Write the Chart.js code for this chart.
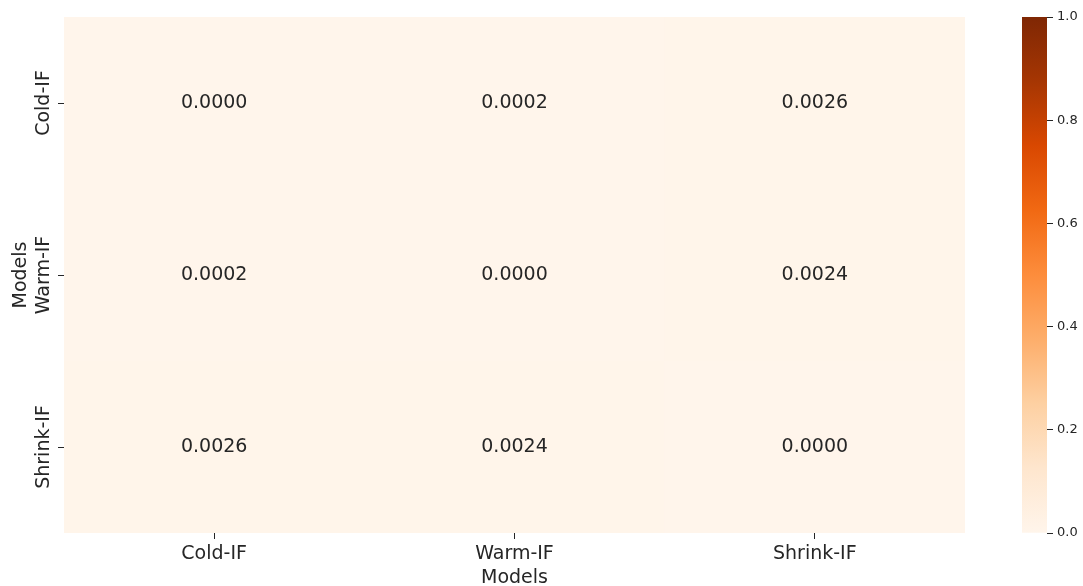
<!DOCTYPE html>
<html lang="en">
<head>
  <meta charset="UTF-8">
  <title>Model distance heatmap</title>
  <script src="https://cdn.jsdelivr.net/npm/chart.js"></script>
  <style>
    body { margin: 0; background: #fff; }
    #wrap { position: relative; width: 1083px; height: 586px; }
    canvas { position: absolute; top: 0; }
  </style>
</head>
<body>
  <div id="wrap">
    <canvas id="heat" width="1083" height="586" style="left:0"></canvas>
    <canvas id="cbar" width="83" height="586" style="left:1000px"></canvas>
  </div>

  <script>
    const models = ['Cold-IF', 'Warm-IF', 'Shrink-IF'];
    const coldRow = [0.0000, 0.0002, 0.0026];
    const warmRow = [0.0002, 0.0000, 0.0024];
    const shrinkRow = [0.0026, 0.0024, 0.0000];
    const rows = [coldRow, warmRow, shrinkRow];
    const cbarTicks = [0.0, 0.2, 0.4, 0.6, 0.8, 1.0];

    // matplotlib "Oranges"
    const oranges = ['#fff5eb', '#fee6ce', '#fdd0a2', '#fdae6b', '#fd8d3c', '#f16913', '#d94801', '#a63603', '#7f2704'];
    const font = 'DejaVu Sans';
    const ink = '#262626';

    function hexRgb(h) {
      return [1, 3, 5].map(i => parseInt(h.substr(i, 2), 16));
    }
    function colorFor(v) {
      const t = Math.min(Math.max(v, 0), 1) * (oranges.length - 1);
      const i = Math.min(Math.floor(t), oranges.length - 2);
      const f = t - i;
      const a = hexRgb(oranges[i]), b = hexRgb(oranges[i + 1]);
      const c = a.map((x, k) => Math.round(x + (b[k] - x) * f));
      return `rgb(${c[0]},${c[1]},${c[2]})`;
    }

    const cellText = {
      id: 'cellText',
      afterDatasetsDraw(chart) {
        const ctx = chart.ctx;
        ctx.save();
        ctx.font = `19px "${font}"`;
        ctx.fillStyle = ink;
        ctx.textAlign = 'center';
        ctx.textBaseline = 'middle';
        chart.data.datasets.forEach((ds, r) => {
          chart.getDatasetMeta(r).data.forEach((bar, c) => {
            const p = bar.getCenterPoint();
            ctx.fillText(rows[r][c].toFixed(4), p.x, p.y);
          });
        });
        // y tick labels, rotated like matplotlib
        const y = chart.scales.y;
        models.forEach((m, i) => {
          ctx.save();
          ctx.translate(44, y.getPixelForValue(i + 0.5));
          ctx.rotate(-Math.PI / 2);
          ctx.fillText(m, 0, 0);
          ctx.restore();
        });
        ctx.restore();
      }
    };

    new Chart(document.getElementById('heat'), {
      type: 'bar',
      data: {
        labels: models,
        datasets: rows.map((row, r) => ({
          label: models[r],
          data: row.map(() => [r, r + 1]),
          backgroundColor: row.map(v => colorFor(v)),
          borderWidth: 0,
          barPercentage: 1,
          categoryPercentage: 1
        }))
      },
      options: {
        responsive: false,
        animation: false,
        layout: { padding: { top: 17, right: 118, left: 0, bottom: 0 } },
        plugins: { legend: { display: false }, tooltip: { enabled: false } },
        scales: {
          x: {
            stacked: true,
            border: { display: false },
            grid: { offset: false, drawOnChartArea: false, tickLength: 6, color: ink },
            ticks: { color: ink, font: { family: font, size: 19 }, padding: 4 },
            title: { display: true, text: 'Models', color: ink, font: { family: font, size: 19 }, padding: { top: 0, bottom: -3 } },
            afterFit: s => { s.height = 53; }
          },
          y: {
            min: 0, max: 3, reverse: true,
            border: { display: false },
            afterBuildTicks: s => { s.ticks = models.map((m, i) => ({ value: i + 0.5 })); },
            grid: { drawOnChartArea: false, tickLength: 6, color: ink },
            ticks: { display: false },
            title: { display: true, text: 'Models', color: ink, font: { family: font, size: 19 }, padding: { top: 10, bottom: 0 } },
            afterFit: s => { s.width = 64; }
          }
        }
      },
      plugins: [cellText]
    });

    new Chart(document.getElementById('cbar'), {
      type: 'bar',
      data: {
        labels: [''],
        datasets: [{
          data: [[cbarTicks[0], cbarTicks[cbarTicks.length - 1]]],
          borderWidth: 0,
          barPercentage: 1,
          categoryPercentage: 1,
          backgroundColor: c => {
            const a = c.chart.chartArea;
            if (!a) return oranges[0];
            const g = c.chart.ctx.createLinearGradient(0, a.bottom, 0, a.top);
            oranges.forEach((col, i) => g.addColorStop(i / (oranges.length - 1), col));
            return g;
          }
        }]
      },
      options: {
        responsive: false,
        animation: false,
        layout: { padding: { top: 17, left: 22, right: 0, bottom: 53 } },
        plugins: { legend: { display: false }, tooltip: { enabled: false } },
        scales: {
          x: { display: false },
          y: {
            position: 'right',
            min: 0, max: 1,
            border: { display: false },
            afterBuildTicks: s => { s.ticks = cbarTicks.map(v => ({ value: v })); },
            grid: { drawOnChartArea: false, tickLength: 6, color: ink },
            ticks: { color: ink, font: { family: font, size: 13 }, padding: 4, callback: v => v.toFixed(1) },
            afterFit: s => { s.width = 36; }
          }
        }
      }
    });
  </script>
</body>
</html>
